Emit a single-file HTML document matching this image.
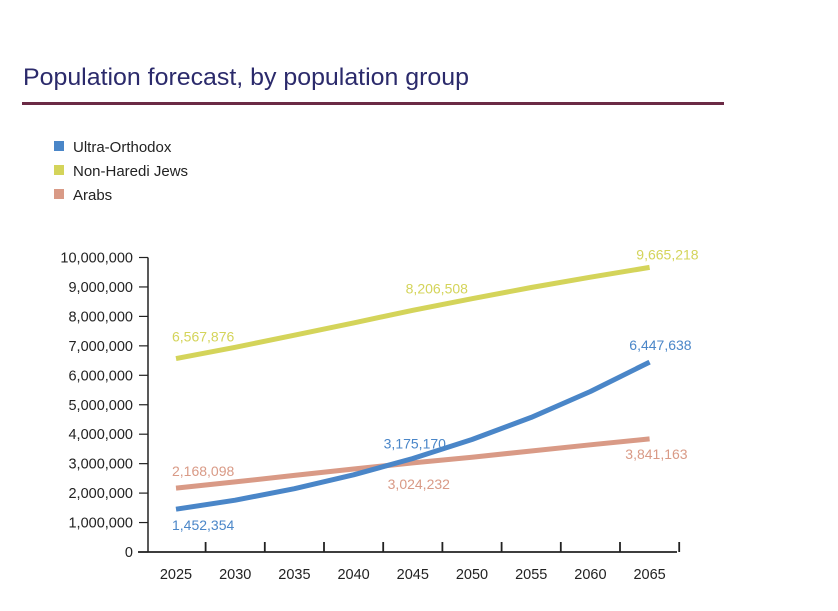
<!DOCTYPE html>
<html><head><meta charset="utf-8"><style>
body{margin:0;background:#fff;width:838px;height:606px;overflow:hidden;font-family:"Liberation Sans",sans-serif}
</style></head><body>
<svg width="838" height="606">
<text x="23" y="85" font-size="24" fill="#2b2a6b" textLength="446" lengthAdjust="spacingAndGlyphs" font-family="Liberation Sans Narrow, Liberation Sans, sans-serif">Population forecast, by population group</text>
<rect x="22" y="102" width="702" height="3" fill="#6b2a45"/>
<g id="legend"></g>
<g id="axes"></g>
<g id="lines"></g>
<g id="labels"></g>
</svg>
<script>
const years=[2025,2030,2035,2040,2045,2050,2055,2060,2065];
const ultra=[1452354,1760000,2150000,2620000,3175170,3820000,4570000,5450000,6447638];
const nonHaredi=[6567876,6950000,7360000,7780000,8206508,8600000,8980000,9330000,9665218];
const arabs=[2168098,2380000,2600000,2820000,3024232,3220000,3430000,3640000,3841163];
const yTicks=[0,1000000,2000000,3000000,4000000,5000000,6000000,7000000,8000000,9000000,10000000];
const seriesNames=["Ultra-Orthodox","Non-Haredi Jews","Arabs"];
const colors=["#4a86c8","#d4d45a","#d99a86"];
const NS="http://www.w3.org/2000/svg";
function el(t,a,p){const e=document.createElementNS(NS,t);for(const k in a)e.setAttribute(k,a[k]);document.getElementById(p).appendChild(e);return e;}
const x0=148,yBase=552,yTop=257.5;
const xs=i=>176+i*59.2;
const ys=v=>yBase-(v/10000000)*(yBase-yTop);
const fmt=v=>v.toLocaleString('en-US');
seriesNames.forEach((n,i)=>{
 const r=el('rect',{x:54,y:141+i*24,width:10,height:10,fill:colors[i]},'legend');
 
 
 const t=el('text',{x:73,y:152+i*24,'font-size':15,fill:'#222'},'legend');
 t.textContent=n;
 
 
});
const ya=el('line',{x1:x0,y1:yTop,x2:x0,y2:yBase,stroke:'#222','stroke-width':1.5},'axes');


const xa=el('line',{x1:138,y1:yBase,x2:677,y2:yBase,stroke:'#222','stroke-width':1.8},'axes');


yTicks.forEach(v=>{
 const y=ys(v);
 el('line',{x1:139,y1:y,x2:x0,y2:y,stroke:'#222','stroke-width':1.2},'axes');
 const t=el('text',{x:133,y:y+5,'font-size':14.5,'text-anchor':'end',fill:'#222'},'axes');
 t.textContent=fmt(v);
 
 
});
years.forEach((yr,i)=>{
 const tx=xs(i)+29.6;
 el('line',{x1:tx,y1:yBase-10,x2:tx,y2:yBase,stroke:'#222','stroke-width':1.8},'axes');
 const t=el('text',{x:xs(i),y:579,'font-size':14.5,'text-anchor':'middle',fill:'#222'},'axes');
 t.textContent=yr;
 
 
});
[[arabs,2],[nonHaredi,1],[ultra,0]].forEach(([s,k])=>{
 const d=s.map((v,i)=>(i?'L':'M')+xs(i).toFixed(1)+','+ys(v).toFixed(1)).join(' ');
 const p=el('path',{d:d,fill:'none',stroke:colors[k],'stroke-width':5,'stroke-linejoin':'round'},'lines');
 
 
});
const lab=(s,i,k,dx,dy,anchor)=>{
 const t=el('text',{x:xs(i)+dx,y:ys(s[i])+dy,'font-size':14,fill:colors[k],'text-anchor':anchor},'labels');
 t.textContent=fmt(s[i]);
 
 
};
const L=years.length-1;
lab(nonHaredi,0,1,-4,-17,'start');
lab(nonHaredi,4,1,24,-17,'middle');
lab(nonHaredi,L,1,49,-8,'end');
lab(ultra,0,0,-4,21,'start');
lab(ultra,4,0,2,-10,'middle');
lab(ultra,L,0,42,-12,'end');
lab(arabs,0,2,-4,-12,'start');
lab(arabs,4,2,6,26,'middle');
lab(arabs,L,2,38,20,'end');
</script>
</body></html>
